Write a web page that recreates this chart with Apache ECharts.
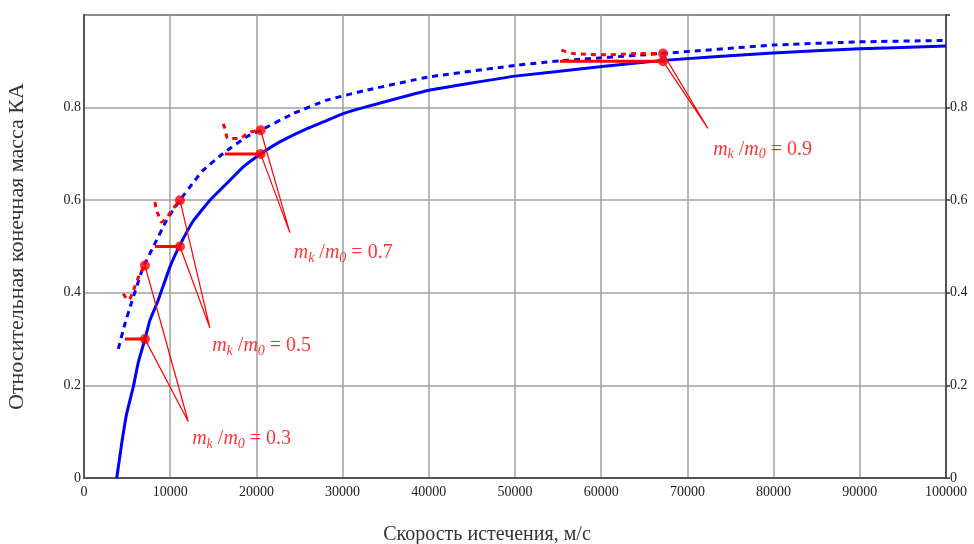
<!DOCTYPE html>
<html><head><meta charset="utf-8">
<script src="https://cdn.jsdelivr.net/npm/echarts/dist/echarts.min.js"></script>
<style>html,body{margin:0;padding:0;background:#fff}#c{width:974px;height:544px}</style>
</head><body><div id="c"></div>
<script>
// ---- data ----
const solidX = [3800, 4370, 4950, 5720, 6300, 7070, 7650, 8610, 9970, 11130, 12670, 14610, 16930, 18470, 20490, 22720, 25430, 27750, 30060, 32600, 39920, 50010, 59830, 67170, 79920, 89970, 100000];
const solidY = [0, 0.074, 0.139, 0.197, 0.25, 0.30, 0.341, 0.384, 0.456, 0.503, 0.555, 0.600, 0.643, 0.672, 0.70, 0.726, 0.751, 0.769, 0.787, 0.801, 0.837, 0.868, 0.888, 0.902, 0.918, 0.927, 0.933];

const dashX = [3980, 4750, 5530, 6880, 8030, 9590, 11130, 12870, 13830, 16150, 18860, 20490, 24270, 28140, 32400, 39920, 50010, 55190, 67170, 79920, 89970, 100000];
const dashY = [0.279, 0.333, 0.380, 0.456, 0.499, 0.557, 0.600, 0.643, 0.665, 0.701, 0.737, 0.751, 0.787, 0.816, 0.836, 0.866, 0.891, 0.901, 0.917, 0.935, 0.942, 0.945];

const ratios = [0.3, 0.5, 0.7, 0.9];
const markerX = [7070, 11130, 20490, 67170];
const markerDashY = [0.459, 0.600, 0.751, 0.917];
const segStartX = [4750, 8230, 16350, 55190];

const redDashX = [
  [4560, 5140, 5720, 6490, 7070],
  [8230, 8420, 8730, 9000, 9770, 10170, 11130],
  [16150, 16350, 16730, 17890, 19250, 20490],
  [55380, 56730, 60600, 64470, 67170]
];
const redDashY = [
  [0.398, 0.384, 0.405, 0.441, 0.459],
  [0.596, 0.578, 0.564, 0.553, 0.567, 0.578, 0.600],
  [0.765, 0.755, 0.733, 0.733, 0.747, 0.751],
  [0.924, 0.917, 0.914, 0.917, 0.917]
];

const leaderX = [12090, 14610, 23880, 72380];
const leaderY = [0.122, 0.324, 0.530, 0.755];
const labelX = [12490, 14810, 24270, 72930];
const labelY = [0.086, 0.287, 0.488, 0.712];

const xTitle = 'Скорость истечения, м/с';
const yTitle = 'Относительная конечная масса КА';

// ---- chart ----
const BLUE = '#0000ff', RED = '#ff0000';
const pairs = (xs, ys) => xs.map((x, i) => [x, ys[i]]);
const series = [];

series.push({type:'line', data:pairs(solidX, solidY), symbol:'none', smooth:0.1,
  lineStyle:{color:BLUE, width:3}, z:3});
series.push({type:'line', data:pairs(dashX, dashY), symbol:'none', smooth:0.1,
  lineStyle:{color:BLUE, width:3, type:[6,5]}, z:3});

ratios.forEach((r, k) => {
  series.push({type:'line', data:pairs(redDashX[k], redDashY[k]), symbol:'none', smooth:0.3,
    lineStyle:{color:RED, width:3, type:[5,5]}, z:4});
  series.push({type:'line', data:[[segStartX[k], r], [markerX[k], r]], symbol:'none',
    lineStyle:{color:RED, width:3}, z:4});
  series.push({type:'line', data:[[markerX[k], r], [leaderX[k], leaderY[k]], [markerX[k], markerDashY[k]]], symbol:'none',
    lineStyle:{color:RED, width:1.2}, z:4});
  series.push({type:'scatter', data:[[markerX[k], r], [markerX[k], markerDashY[k]]], symbol:'circle', symbolSize:10,
    itemStyle:{color:RED}, z:5});
  series.push({type:'scatter', data:[[labelX[k], labelY[k]]], symbolSize:1, itemStyle:{color:'rgba(0,0,0,0)'}, z:6,
    label:{show:true, position:'right', distance:0, offset:[0,2],
      formatter:'{i|m}{s|k}{n| /}{i|m}{s|0}{n| = ' + r + '}',
      rich:{
        i:{fontFamily:'Liberation Serif', fontStyle:'italic', fontSize:20, color:RED, lineHeight:22, verticalAlign:'top'},
        n:{fontFamily:'Liberation Serif', fontSize:20, color:RED, lineHeight:22, verticalAlign:'top'},
        s:{fontFamily:'Liberation Serif', fontStyle:'italic', fontSize:14, color:RED, lineHeight:14, padding:[14,0,0,0], verticalAlign:'bottom'}
      }}});
});

const axisFont = {fontFamily:'Liberation Serif', fontSize:14, color:'#222'};
const yFmt = v => v >= 0.999 ? '' : String(+v.toFixed(1));

const chart = echarts.init(document.getElementById('c'), null, {renderer:'canvas'});
chart.setOption({
  animation:false,
  backgroundColor:'#fff',
  grid:{left:84, right:28, top:15, bottom:66, show:true, borderColor:'#555', borderWidth:2,
    containLabel:false, outerBoundsMode:'none'},
  xAxis:{type:'value', min:0, max:100000, interval:10000,
    axisLine:{show:true, lineStyle:{color:'#555', width:2}}, axisTick:{show:false},
    axisLabel:Object.assign({margin:7, formatter:v => String(v)}, axisFont),
    splitLine:{show:true, lineStyle:{color:'#a0a0a0', width:1.5}},
    name:xTitle, nameLocation:'middle', nameGap:47,
    nameTextStyle:{fontFamily:'Liberation Serif', fontSize:20, color:'#333', padding:[0,56,0,0]}},
  yAxis:[
    {type:'value', min:0, max:1, interval:0.2, position:'left',
      axisLine:{show:true, lineStyle:{color:'#555', width:2}}, axisTick:{show:false},
      axisLabel:Object.assign({margin:3, formatter:yFmt}, axisFont),
      splitLine:{show:true, lineStyle:{color:'#a0a0a0', width:1.5}},
      name:yTitle, nameLocation:'middle', nameGap:56,
      nameTextStyle:{fontFamily:'Liberation Serif', fontSize:22, color:'#333'}},
    {type:'value', min:0, max:1, interval:0.2, position:'right',
      axisLine:{show:true, lineStyle:{color:'#555', width:2}},
      axisTick:{show:true, inside:false, length:4, lineStyle:{color:'#333', width:1.5}},
      axisLabel:Object.assign({margin:4, formatter:yFmt}, axisFont),
      splitLine:{show:false}}
  ],
  series:series
});
</script></body></html>
